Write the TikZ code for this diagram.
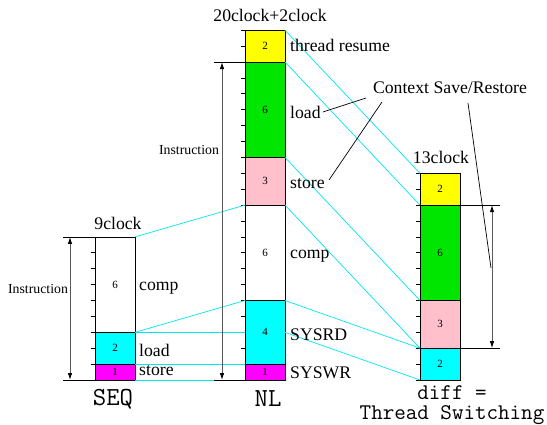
\documentclass[tikz,border=0pt]{standalone}
\usepackage{fontspec}
\setmainfont{Liberation Serif}
\usetikzlibrary{arrows.meta}
\definecolor{cyanc}{RGB}{0,255,255}
\definecolor{magc}{RGB}{255,0,255}
\definecolor{yelc}{RGB}{255,255,0}
\definecolor{grnc}{RGB}{0,230,0}
\definecolor{pinkc}{RGB}{255,192,203}
\definecolor{cyline}{RGB}{0,230,240}
\tikzset{
  seg/.style={draw=black, line width=0.8pt, minimum width=40pt, minimum height=#1*15.9pt,
    inner sep=0pt, outer sep=0pt, anchor=south, font=\fontsize{11}{11}\selectfont},
  lab/.style={anchor=west, inner sep=0pt, font=\fontsize{17.7}{18}\selectfont},
  ttl/.style={inner sep=0pt, font=\fontsize{17.7}{18}\selectfont},
  ttlab/.style={inner sep=0pt, align=center, font=\ttfamily\fontsize{22.4}{20}\selectfont},
  bigtt/.style={inner sep=0pt, font=\ttfamily\fontsize{26}{26}\selectfont},
  instr/.style={inner sep=0pt, font=\fontsize{13.8}{14}\selectfont},
  cy/.style={draw=cyline, line width=0.7pt},
  dim/.style={draw=black, line width=0.8pt},
  dimarrow/.style={draw=black!65, line width=0.9pt, {Latex[length=7pt,width=4.5pt,color=black]}-{Latex[length=7pt,width=4.5pt,color=black]}},
  tick/.style={draw=black, line width=0.8pt},
  call/.style={draw=black, line width=0.7pt}
}
\def\u{15.9}
\begin{document}
\begin{tikzpicture}[x=1pt,y=-1pt]
\useasboundingbox (0,0) rectangle (547,424);

% ---------- ticks ----------
\foreach \k in {0,...,9} \draw[tick] (95,{380-\k*\u}) -- ++(-4,0);
\foreach \k in {0,...,22} \draw[tick] (245,{380-\k*\u}) -- ++(-4,0);
\foreach \k in {0,...,13} \draw[tick] (420,{380-\k*\u}) -- ++(-4,0);

\coordinate (n332l) at (245,{380-3*\u});
\coordinate (n332r) at (285,{380-3*\u});

% ---------- SEQ column ----------
\node[seg=1, fill=magc] (s1) at (115,380) {1};
\node[seg=2, fill=cyanc] (s2) at (115,{380-\u}) {2};
\node[seg=6, fill=white] (s3) at (115,{380-3*\u}) {6};

% ---------- NL column ----------
\node[seg=1, fill=magc] (n1) at (265,380) {1};
\node[seg=4, fill=cyanc] (n2) at (265,{380-\u}) {4};
\node[seg=6, fill=white] (n3) at (265,{380-5*\u}) {6};
\node[seg=3, fill=pinkc] (n4) at (265,{380-11*\u}) {3};
\node[seg=6, fill=grnc] (n5) at (265,{380-14*\u}) {6};
\node[seg=2, fill=yelc] (n6) at (265,{380-20*\u}) {2};

% ---------- 13clock column ----------
\node[seg=2, fill=cyanc] (t1) at (440,380) {2};
\node[seg=3, fill=pinkc] (t2) at (440,{380-2*\u}) {3};
\node[seg=6, fill=grnc] (t3) at (440,{380-5*\u}) {6};
\node[seg=2, fill=yelc] (t4) at (440,{380-11*\u}) {2};

% ---------- cyan lines ----------
\draw[cy] (s3.north east) -- (n3.north west);
\draw[cy] (s2.north east) -- (n2.north west);
\draw[cy] (s2.north east) -- (n332l);
\draw[cy] (s1.north east) -- (n1.north west);
\draw[cy] (s1.south east) -- (n1.south west);
\draw[cy] (n6.north east) -- (t4.north west);
\draw[cy] (n5.north east) -- (t3.north west);
\draw[cy] (n4.north east) -- (t2.north west);
\draw[cy] (n3.north east) -- (t1.north west);
\draw[cy] (n2.north east) -- (t1.north west);
\draw[cy] (n332r) -- (t1.south west);

% ---------- dimension lines ----------
\coordinate (seqtl) at (63,{380-9*\u});
\coordinate (seqbl) at (63,380);
\draw[dim] (seqtl) -- (s3.north east);
\draw[dim] (seqbl) -- (s1.south west);
\draw[dimarrow] (70,{380-9*\u}) -- (70,380);
\node[instr] (i1) at (38,289) {Instruction};

\coordinate (nltl) at (214,{380-20*\u});
\coordinate (nlbl) at (214,380);
\draw[dim] (nltl) -- (n5.north east);
\draw[dim] (nlbl) -- (n1.south west);
\draw[dimarrow] (222,{380-20*\u}) -- (222,380);
\node[instr] (i2) at (189,150) {Instruction};

\coordinate (ttr) at (500,{380-11*\u});
\coordinate (tbr) at (500,{380-2*\u});
\draw[dim] (t3.north west) -- (ttr);
\draw[dim] (t1.north west) -- (tbr);
\draw[dimarrow] (492,{380-11*\u}) -- (492,{380-2*\u});

% ---------- labels ----------
\node[lab] (lres) at (290,45) {thread resume};
\node[lab] (lload) at (290,112) {load};
\node[lab] (lstore) at (290,184) {store};
\node[lab] (lcomp) at (290,256) {comp};
\node[lab] (lrd) at (290,335) {SYSRD};
\node[lab] (lwr) at (290,373) {SYSWR};
\node[lab] (scomp) at (139,288) {comp};
\node[lab] (sload) at (139,350) {load};
\node[lab] (sstore) at (139,371) {store};

\node[ttl] (h1) at (118,223) {9clock};
\node[ttl] (h2) at (270,15) {20clock+2clock};
\node[ttl] (h3) at (441,157) {13clock};
\node[ttl] (ctx) at (450,88) {Context Save/Restore};

\node[bigtt] (seq) at (113,399) {SEQ};
\node[bigtt] (nl) at (268,399) {NL};
\node[ttlab] (diff) at (452,405) {diff =\\Thread Switching};

% ---------- callouts ----------
\coordinate (c1) at (366,98);
\coordinate (c2) at (382,102);
\coordinate (c3) at (468,103);
\coordinate (e3) at (491,268);
\draw[call] (lload.east) ++(2,0) -- (c1);
\draw[call] (c2) -- (329,180);
\draw[call] (c3) -- (e3);
\end{tikzpicture}
\end{document}
